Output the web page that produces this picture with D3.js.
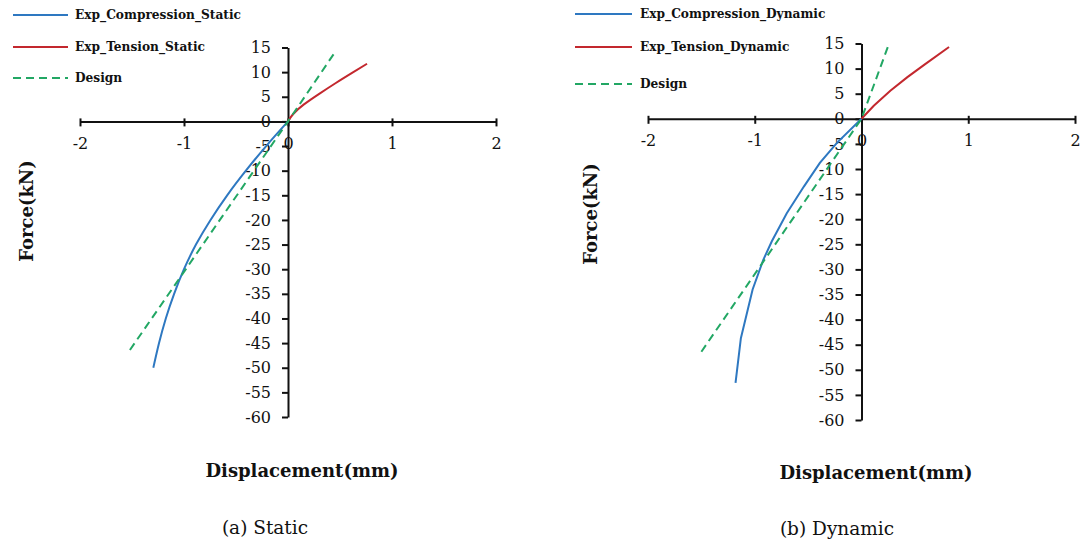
<!DOCTYPE html>
<html>
<head>
<meta charset="utf-8">
<script src="https://cdn.jsdelivr.net/npm/d3@7"></script>
<style>
  body { margin: 0; background: #fff; }
</style>
</head>
<body>
<svg id="chart" width="1086" height="547"></svg>
<script>
const FONT = '"DejaVu Serif", serif';

// tick labels
const xTickValues = [-2, -1, 0, 1, 2];
const yTickValues = [15, 10, 5, 0, -5, -10, -15, -20, -25, -30, -35, -40, -45, -50, -55, -60];

// (a) Static — [displacement mm, force kN]
const staticCompression = [[0, 0], [-0.21, -5], [-0.405, -10], [-0.585, -15], [-0.745, -20],
    [-0.885, -25], [-1.0, -30], [-1.095, -35], [-1.175, -40], [-1.24, -45], [-1.295, -50]];
const staticTension = [[0, 0], [0.05, 1.5], [0.15, 3.4], [0.30, 5.6], [0.46, 7.8], [0.62, 9.9], [0.76, 11.7]];
const staticDesign = [[-1.52, -46.4], [0, 0], [0.45, 14.0]];

// (b) Dynamic
const dynamicCompression = [[0, 0], [-0.23, -4.8], [-0.39, -8.8], [-0.54, -13.5], [-0.70, -18.8],
    [-0.84, -24.4], [-0.92, -28.1], [-1.02, -34], [-1.13, -43.7], [-1.18, -52.6]];
const dynamicTension = [[0, 0], [0.115, 2.6], [0.27, 5.6], [0.43, 8.3], [0.59, 10.8], [0.82, 14.3]];
const dynamicDesign = [[-1.50, -46.4], [0, 0], [0.26, 15.1]];

const COLORS = {compression: '#2e78c1', tension: '#c3282e', design: '#22a764'};

const panels = [
    {
        names: ['Exp_Compression_Static', 'Exp_Tension_Static', 'Design'],
        series: [staticCompression, staticTension, staticDesign],
        smooth: true,
        xRange: [80, 496], yRange: [47.5, 417],
        legend: {x1: 13, x2: 68, tx: 75, ys: [15, 47, 78]},
        yTitle: {x: 27, y: 211}, xTitle: {x: 302, y: 471},
        caption: {text: '(a) Static', x: 265, y: 528}
    },
    {
        names: ['Exp_Compression_Dynamic', 'Exp_Tension_Dynamic', 'Design'],
        series: [dynamicCompression, dynamicTension, dynamicDesign],
        smooth: false,
        xRange: [648, 1075], yRange: [43.5, 420],
        legend: {x1: 575, x2: 632, tx: 640, ys: [14, 47, 84]},
        yTitle: {x: 591, y: 214}, xTitle: {x: 876, y: 473},
        caption: {text: '(b) Dynamic', x: 837, y: 529}
    }
];

const svg = d3.select('#chart').attr('font-family', FONT);
const seriesKeys = ['compression', 'tension', 'design'];

function addText(sel){
    return sel.append('text').attr('font-family', FONT).attr('fill', '#111');
}

function drawPanel(p){
    const x = d3.scaleLinear().domain([-2, 2]).range(p.xRange);
    const y = d3.scaleLinear().domain([15, -60]).range(p.yRange);
    const g = svg.append('g');

    // x axis through y = 0
    const xAxis = g.append('g')
        .attr('transform', `translate(0,${y(0)})`)
        .call(d3.axisBottom(x).tickValues(xTickValues).tickSize(5).tickSizeOuter(0)
            .tickFormat(d => String(d)).tickPadding(11));
    xAxis.selectAll('.tick line').attr('y1', -3);

    // y axis through x = 0
    const yAxis = g.append('g')
        .attr('transform', `translate(${x(0)},0)`)
        .call(d3.axisLeft(y).tickValues(yTickValues).tickSize(6).tickSizeOuter(0)
            .tickFormat(d => String(d)).tickPadding(11));

    [xAxis, yAxis].forEach(a => {
        a.attr('font-family', FONT);
        a.select('.domain').attr('stroke', '#111').attr('stroke-width', 2);
        a.selectAll('.tick line').attr('stroke', '#111').attr('stroke-width', 2);
        a.selectAll('.tick text').attr('font-size', 16).attr('fill', '#111')
            .attr('font-family', FONT);
    });

    // curves
    p.series.forEach((data, i) => {
        const key = seriesKeys[i];
        const line = d3.line()
            .x(d => x(d[0])).y(d => y(d[1]))
            .curve(p.smooth && key !== 'design' ? d3.curveNatural : d3.curveLinear);
        g.append('path')
            .datum(data)
            .attr('d', line)
            .attr('fill', 'none')
            .attr('stroke', COLORS[key])
            .attr('stroke-width', 2)
            .attr('stroke-dasharray', key === 'design' ? '8,5' : null);
    });

    // legend
    p.names.forEach((name, i) => {
        const key = seriesKeys[i];
        const ly = p.legend.ys[i];
        g.append('line')
            .attr('x1', p.legend.x1).attr('x2', p.legend.x2)
            .attr('y1', ly).attr('y2', ly)
            .attr('stroke', COLORS[key]).attr('stroke-width', 2)
            .attr('stroke-dasharray', key === 'design' ? '8,5' : null);
        addText(g)
            .attr('x', p.legend.tx).attr('y', ly)
            .attr('dy', '0.35em')
            .attr('font-size', 12.2).attr('font-weight', 'bold')
            .text(name);
    });

    // titles
    addText(g)
        .attr('transform', `translate(${p.yTitle.x},${p.yTitle.y}) rotate(-90)`)
        .attr('text-anchor', 'middle').attr('dy', '0.35em')
        .attr('font-size', 18).attr('font-weight', 'bold')
        .text('Force(kN)');
    addText(g)
        .attr('x', p.xTitle.x).attr('y', p.xTitle.y)
        .attr('text-anchor', 'middle').attr('dy', '0.35em')
        .attr('font-size', 18).attr('font-weight', 'bold')
        .text('Displacement(mm)');
    addText(g)
        .attr('x', p.caption.x).attr('y', p.caption.y)
        .attr('text-anchor', 'middle').attr('dy', '0.35em')
        .attr('font-size', 18.5)
        .text(p.caption.text);
}

panels.forEach(drawPanel);
</script>
</body>
</html>
